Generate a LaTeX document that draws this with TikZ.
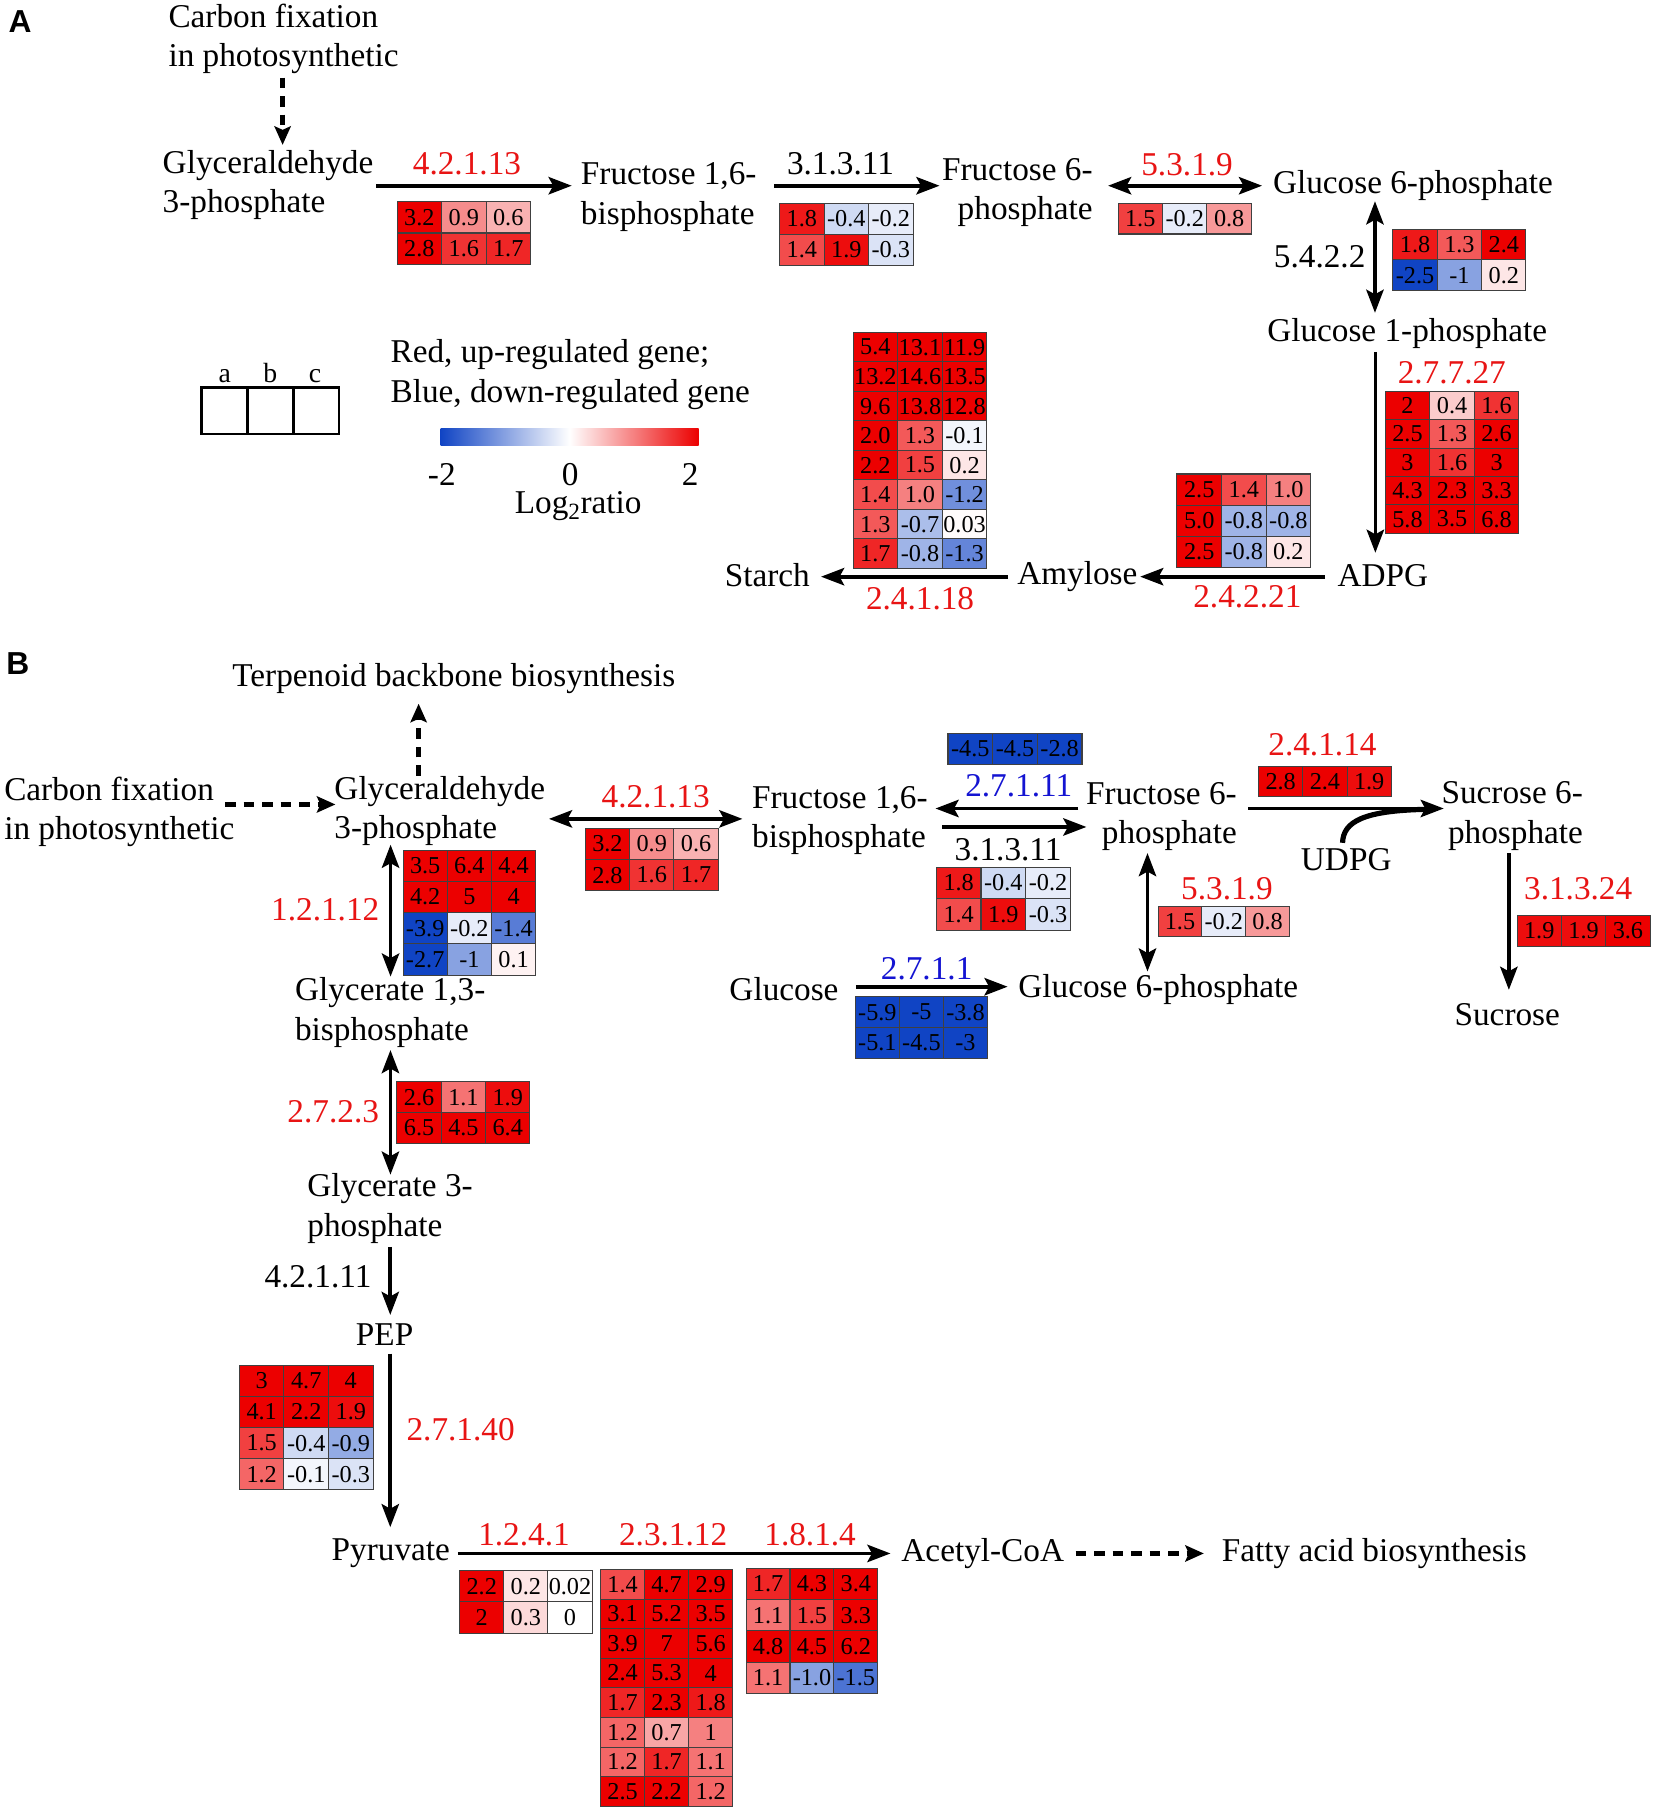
\documentclass[tikz,border=0pt]{standalone}
\usepackage{fontspec}
\setmainfont{Liberation Serif}
\newfontfamily\panelfont{Liberation Sans}
\usetikzlibrary{arrows.meta,calc}
\definecolor{hmred}{RGB}{236,0,0}
\definecolor{hmblue}{RGB}{16,68,196}
\definecolor{enzred}{RGB}{232,20,20}
\definecolor{enzblue}{RGB}{20,20,210}
\newcommand\lblfont{\fontsize{28.8}{34}\selectfont}
\newcommand\cellfont{\fontsize{21}{21}\selectfont}
\newcommand\heatmap[6]{%
  \foreach \hmrow [count=\hmr] in {#6}{%
    \foreach \hmv [count=\hmc] in \hmrow{%
      \pgfmathsetmacro\hmpc{min(abs(\hmv)/2,1)*100}%
      \pgfmathtruncatemacro\hmneg{(\hmv<0)}%
      \ifnum\hmneg=1 \def\hmcol{hmblue}\else\def\hmcol{hmred}\fi
      \node[hcell, minimum width=#4pt, minimum height=#5pt, fill=\hmcol!\hmpc!white]
        (#1-\hmr-\hmc) at ({#2+(\hmc-0.5)*#4},{#3+(\hmr-0.5)*#5}) {\hmv};
    }%
  }%
}
\begin{document}
\begin{tikzpicture}[x=1pt,y=-1pt,
  lbl/.style={font=\lblfont, inner sep=0pt},
  enz/.style={lbl, text=enzred},
  enzb/.style={lbl, text=enzblue},
  enzk/.style={lbl, text=black},
  panel/.style={font=\panelfont\bfseries\fontsize{27.5}{27.5}\selectfont, inner sep=0pt},
  hcell/.style={draw=black!75, line width=0.9pt, inner sep=0pt, font=\cellfont, text=black},
  lgcell/.style={draw=black, line width=2.4pt, minimum width=39.7pt, minimum height=40.4pt, inner sep=0pt},
  abc/.style={font=\fontsize{24}{24}\selectfont, inner sep=0pt, anchor=base},
  ar/.style={line width=3.2pt, -{Stealth[length=20pt,width=15pt,inset=4pt]}},
  dar/.style={line width=3.2pt, {Stealth[length=20pt,width=15pt,inset=4pt]}-{Stealth[length=20pt,width=15pt,inset=4pt]}},
  dsh/.style={line width=4pt, dash pattern=on 9pt off 7pt, -{Stealth[length=16pt,width=14pt,inset=3pt]}}
]
\path[use as bounding box, fill=white] (0,0) rectangle (1433,1568);

% ================= Panel A =================
\node[panel] (pA) at (17.5,18.5) {A};
\node[lbl, align=left, anchor=west] (cfA) at (145.7,33.8) {Carbon fixation\\in photosynthetic};
\node[lbl, align=left, anchor=west] (g3pA) at (140.7,160.1) {Glyceraldehyde\\3-phosphate};
\node[lbl, align=left, anchor=west] (f16A) at (502.8,170.5) {Fructose 1,6-\\bisphosphate};
\node[lbl, align=right, anchor=east] (f6pA) at (946.2,166.5) {Fructose 6-\\phosphate};
\node[lbl, anchor=west] (g6pA) at (1102,161) {Glucose 6-phosphate};
\node[lbl, anchor=west] (g1pA) at (1097,289) {Glucose 1-phosphate};
\node[lbl, anchor=west] (adpg) at (1158,498) {ADPG};
\node[lbl, anchor=west] (amyA) at (880.6,499.3) {Amylose};
\node[lbl, anchor=west] (starch) at (627.4,497.8) {Starch};

\draw[dsh] ($(cfA.south)+(-0.8,3)$) -- ($(cfA.south |- g3pA.north)+(-0.8,-4.4)$);
\draw[ar] ($(g3pA.east)+(2.3,0.7)$) -- ($(g3pA.east -| f16A.west)+(-7.8,0.7)$);
\draw[ar] ($(f16A.east)+(15,-9.7)$) -- ($(f16A.east -| f6pA.west)+(-2,-9.7)$);
\draw[dar] ($(f6pA.east |- g6pA.west)+(13.2,-0.2)$) -- ($(g6pA.west)+(-9.3,-0.2)$);
\draw[dar] ($(g6pA.south)+(-32.9,0)$) -- ($(g6pA.south |- g1pA.north)+(-32.9,-4.9)$);
\draw[ar] ($(g1pA.south -| adpg.north)+(-6.6,2.4)$) -- ($(adpg.north)+(-6.6,-9.5)$);
\draw[ar] ($(adpg.west)+(-10.7,1.3)$) -- ($(adpg.west -| amyA.east)+(2.2,1.3)$);
\draw[ar] ($(amyA.west)+(-7.8,0)$) -- ($(amyA.west -| starch.east)+(9.5,0)$);

\node[enz] (eA1) at (404.3,141.4) {4.2.1.13};
\node[enzk] (eA2) at (727.7,142) {3.1.3.11};
\node[enz] (eA3) at (1027.8,142.9) {5.3.1.9};
\node[enzk] (eA4) at (1142.6,222.2) {5.4.2.2};
\node[enz] (eA5) at (1257,323) {2.7.7.27};
\node[enz] (eA6) at (1080,516.6) {2.4.2.21};
\node[enz] (eA7) at (796.6,518.1) {2.4.1.18};

\heatmap{hA1}{343.8}{174.6}{38.5}{27.15}{{3.2,0.9,0.6},{2.8,1.6,1.7}}
\heatmap{hA2}{675.0}{175.8}{38.5}{26.85}{{1.8,-0.4,-0.2},{1.4,1.9,-0.3}}
\heatmap{hA3}{968.0}{176.0}{38.5}{26.6}{{1.5,-0.2,0.8}}
\heatmap{hA4}{1206.0}{198.3}{38.4}{26.7}{{1.8,1.3,2.4},{-2.5,-1,0.2}}
\heatmap{hA5}{1199.3}{339.0}{38.6}{24.55}{{2,0.4,1.6},{2.5,1.3,2.6},{3,1.6,3},{4.3,2.3,3.3},{5.8,3.5,6.8}}
\heatmap{hA6}{1019.0}{410.4}{38.6}{27}{{2.5,1.4,1.0},{5.0,-0.8,-0.8},{2.5,-0.8,0.2}}
\heatmap{hA7}{738.6}{287.8}{38.6}{25.54}{{5.4,13.1,11.9},{13.2,14.6,13.5},{9.6,13.8,12.8},{2.0,1.3,-0.1},{2.2,1.5,0.2},{1.4,1.0,-1.2},{1.3,-0.7,0.03},{1.7,-0.8,-1.3}}

% legend
\node[lgcell] (lga) at (194.25,355.6) {};
\node[lgcell] (lgb) at (233.95,355.6) {};
\node[lgcell] (lgc) at (273.65,355.6) {};
\node[abc] (la) at ($(lga.north)+(0.4,-3)$) {a};
\node[abc] (lb) at ($(lgb.north)+(0,-3)$) {b};
\node[abc] (lc) at ($(lgc.north)+(-0.8,-3)$) {c};
\node[lbl, align=left, anchor=west] (leg) at (338,324.4) {Red, up-regulated gene;\\Blue, down-regulated gene};
\node[inner sep=0pt, minimum width=223.4pt, minimum height=15pt, left color=hmblue, right color=hmred, middle color=white] (cbar) at (493.1,378.4) {};
\node[lbl] (t1) at (382.5,410.5) {-2};
\node[lbl] (t2) at (493.6,410.5) {0};
\node[lbl] (t3) at (597.5,410.5) {2};
\node[lbl] (logr) at (500.6,438.5) {Log\textsubscript{2}ratio};

% ================= Panel B =================
\node[panel] (pB) at (15.5,574.5) {B};
\node[lbl, anchor=west] (terp) at (201,587.4) {Terpenoid backbone biosynthesis};
\node[lbl, align=left, anchor=west] (cfB) at (3.5,702.8) {Carbon fixation\\in photosynthetic};
\node[lbl, align=left, anchor=west] (g3pB) at (289.4,702.4) {Glyceraldehyde\\3-phosphate};
\node[lbl, align=left, anchor=west] (f16B) at (651,710.5) {Fructose 1,6-\\bisphosphate};
\node[lbl, align=right, anchor=east] (f6pB) at (1071,706.8) {Fructose 6-\\phosphate};
\node[lbl, align=right, anchor=east] (suc6p) at (1370.7,706.5) {Sucrose 6-\\phosphate};
\node[lbl] (udpg) at (1165.6,744.6) {UDPG};
\node[lbl] (sucrose) at (1305,878.9) {Sucrose};
\node[lbl, anchor=west] (glc) at (631.4,856) {Glucose};
\node[lbl, anchor=west] (g6pB) at (881.5,857) {Glucose 6-phosphate};
\node[lbl, align=left, anchor=west] (g13bp) at (255.3,876.6) {Glycerate 1,3-\\bisphosphate};
\node[lbl, align=left, anchor=west] (g3p3) at (266,1046.3) {Glycerate 3-\\phosphate};
\node[lbl] (pep) at (333,1155.8) {PEP};
\node[lbl, anchor=west] (pyr) at (287,1345) {Pyruvate};
\node[lbl, anchor=west] (acoa) at (780.3,1345) {Acetyl-CoA};
\node[lbl, anchor=west] (fatty) at (1057.8,1345) {Fatty acid biosynthesis};

\draw[dsh] ($(g3pB.north)+(-18.3,-0.5)$) -- ($(g3pB.north |- terp.south)+(-18.3,8.6)$);
\draw[dsh] ($(cfB.east)+(-8.1,-6.3)$) -- ($(cfB.east -| g3pB.west)+(1,-6.3)$);
\draw[dar] ($(g3pB.east)+(3.2,6.6)$) -- ($(g3pB.east -| f16B.west)+(-8.2,6.6)$);
\draw[ar] ($(f6pB.west |- f16B.east)+(-6.6,-10.5)$) -- ($(f16B.east)+(6.6,-10.5)$);
\draw[ar] ($(f16B.east)+(12.6,5.5)$) -- ($(f16B.east -| f6pB.west)+(0.4,5.5)$);
\draw[ar] ($(f6pB.east)+(9.6,-6.8)$) -- ($(f6pB.east -| suc6p.west)+(2.1,-6.8)$);
\draw[line width=4.5pt] ($(udpg.north)+(-3.2,-5)$) .. controls ($(udpg.north)+(-2.6,-23)$) and ($(udpg.north)+(14,-33)$) .. ($(udpg.north)+(70,-34)$);
\draw[ar] ($(suc6p.south -| sucrose.north)+(1.4,2.3)$) -- ($(sucrose.north)+(1.4,-12)$);
\draw[dar] ($(f6pB.south)+(-12.1,2)$) -- ($(f6pB.south |- g6pB.north)+(-12.1,-2.6)$);
\draw[ar] ($(glc.east)+(14.8,-1.7)$) -- ($(glc.east -| g6pB.west)+(-9.1,-1.7)$);
\draw[dar] ($(g3pB.south -| g13bp.north)+(0.3,-1.3)$) -- ($(g13bp.north)+(0.3,-0.8)$);
\draw[dar] ($(g13bp.south)+(0.2,2.3)$) -- ($(g13bp.south |- g3p3.north)+(0.2,1)$);
\draw[ar] ($(g3p3.south -| pep.north)+(4.9,3.1)$) -- ($(pep.north)+(4.9,-7.7)$);
\draw[ar] ($(pep.south)+(4.9,6.5)$) -- ($(pep.south |- pyr.north)+(4.9,-10)$);
\draw[ar] ($(pyr.east)+(6.6,0)$) -- ($(pyr.east -| acoa.west)+(-9.3,0)$);
\draw[dsh] ($(acoa.east)+(9.9,0)$) -- ($(acoa.east -| fatty.west)+(-15.5,0)$);

\node[enz] (eB1) at (567.7,689.8) {4.2.1.13};
\node[enzb] (eB2) at (882,680.6) {2.7.1.11};
\node[enzk] (eB3) at (872.8,736) {3.1.3.11};
\node[enz] (eB4) at (1145,645) {2.4.1.14};
\node[enz] (eB5) at (1366.4,769.2) {3.1.3.24};
\node[enz] (eB6) at (1062.3,769.2) {5.3.1.9};
\node[enzb] (eB7) at (802.3,838.4) {2.7.1.1};
\node[enz] (eB8) at (281.6,788) {1.2.1.12};
\node[enz] (eB9) at (288.5,962.6) {2.7.2.3};
\node[enzk] (eB10) at (275.3,1105.4) {4.2.1.11};
\node[enz] (eB11) at (398.8,1238.2) {2.7.1.40};
\node[enz] (eB12) at (453.7,1329) {1.2.4.1};
\node[enz] (eB13) at (582.8,1329) {2.3.1.12};
\node[enz] (eB14) at (701.4,1329) {1.8.1.4};

\heatmap{hB1}{506.7}{717.2}{38.4}{27}{{3.2,0.9,0.6},{2.8,1.6,1.7}}
\heatmap{hB2}{820.8}{635.0}{38.67}{26.8}{{-4.5,-4.5,-2.8}}
\heatmap{hB3}{810.7}{751.0}{38.67}{27.15}{{1.8,-0.4,-0.2},{1.4,1.9,-0.3}}
\heatmap{hB4}{1089.7}{663.3}{38.3}{26.5}{{2.8,2.4,1.9}}
\heatmap{hB5}{1313.5}{792.3}{38.4}{26.9}{{1.9,1.9,3.6}}
\heatmap{hB6}{1002.7}{784.5}{37.9}{26.5}{{1.5,-0.2,0.8}}
\heatmap{hB7}{740.6}{863.0}{38.13}{26.7}{{-5.9,-5,-3.8},{-5.1,-4.5,-3}}
\heatmap{hB8}{349.0}{736.0}{38.27}{27.05}{{3.5,6.4,4.4},{4.2,5,4},{-3.9,-0.2,-1.4},{-2.7,-1,0.1}}
\heatmap{hB9}{343.7}{936.6}{38.37}{26.7}{{2.6,1.1,1.9},{6.5,4.5,6.4}}
\heatmap{hB10}{207.3}{1182.0}{38.57}{27}{{3,4.7,4},{4.1,2.2,1.9},{1.5,-0.4,-0.9},{1.2,-0.1,-0.3}}
\heatmap{hB11}{398.0}{1360.0}{38.2}{27}{{2.2,0.2,0.02},{2,0.3,0}}
\heatmap{hB12}{520.0}{1359.0}{38.13}{25.6}{{1.4,4.7,2.9},{3.1,5.2,3.5},{3.9,7,5.6},{2.4,5.3,4},{1.7,2.3,1.8},{1.2,0.7,1},{1.2,1.7,1.1},{2.5,2.2,1.2}}
\heatmap{hB13}{646.0}{1358.0}{38}{27}{{1.7,4.3,3.4},{1.1,1.5,3.3},{4.8,4.5,6.2},{1.1,-1.0,-1.5}}
\end{tikzpicture}
\end{document}
